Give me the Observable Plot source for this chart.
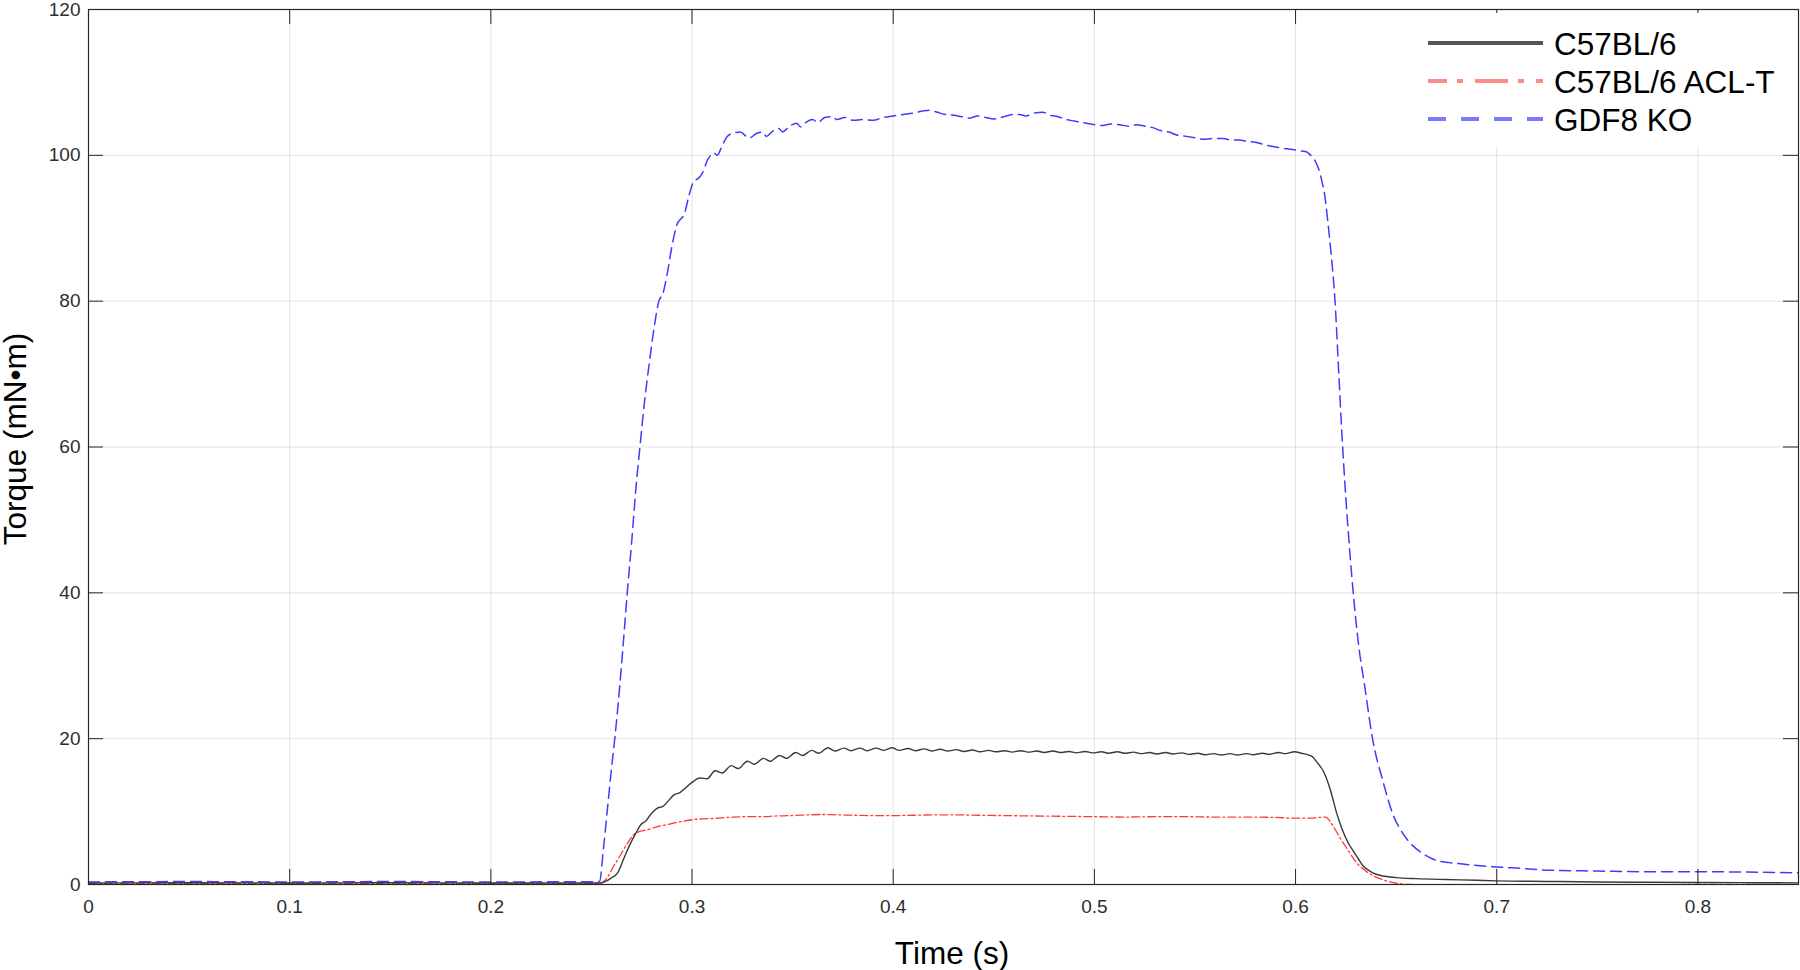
<!DOCTYPE html>
<html>
<head>
<meta charset="utf-8">
<script src="https://cdn.jsdelivr.net/npm/d3@7"></script>
<script src="https://cdn.jsdelivr.net/npm/@observablehq/plot@0.6"></script>
<style>
  html, body { margin: 0; padding: 0; background: #fff; }
  #wrap { position: relative; width: 1800px; height: 970px; font-family: "Liberation Sans", Arial, Helvetica, sans-serif; }
  #legend { position: absolute; left: 1412px; top: 13px; width: 376px; height: 134px; background: #fff; }
  .axlabel { position: absolute; font-size: 31.5px; color: #000; white-space: nowrap; }
</style>
</head>
<body>
<div id="wrap"></div>
<script>
// ---- data (time in s, torque in mN·m) ----
const xTicks = [0, 0.1, 0.2, 0.3, 0.4, 0.5, 0.6, 0.7, 0.8];
const yTicks = [0, 20, 40, 60, 80, 100, 120];
const seriesNames = ["C57BL/6", "C57BL/6 ACL-T", "GDF8 KO"];

const c57 = [
  [0,0.2],[0.05,0.25],[0.1,0.2],[0.15,0.25],[0.2,0.2],[0.254,0.2],
  [0.256,0.3],[0.26,0.9],[0.263,1.6],[0.266,3.5],[0.269,5.4],[0.272,7.0],[0.2745,8.2],[0.277,8.7],
  [0.28,9.8],[0.283,10.5],[0.2855,10.7],[0.288,11.4],[0.291,12.3],[0.294,12.6],[0.297,13.3],[0.3,14.0],
  [0.304,14.6],[0.3075,14.5],[0.3115,15.6],[0.315,15.3],[0.3195,16.3],[0.323,15.9],[0.3275,16.9],[0.331,16.5],
  [0.3355,17.3],[0.339,16.9],[0.3435,17.7],[0.347,17.3],[0.3515,18.1],[0.355,17.7],[0.3595,18.4],[0.363,18.0],
  [0.3675,18.75],[0.371,18.3],[0.3755,18.7],[0.379,18.35],[0.3835,18.7],[0.387,18.35],[0.3915,18.7],[0.395,18.4],
  [0.3995,18.75],[0.403,18.4],[0.4075,18.65],[0.411,18.35],[0.4155,18.6],[0.419,18.3],[0.4235,18.55],[0.427,18.3],
  [0.4315,18.5],[0.435,18.25],[0.4395,18.45],[0.443,18.2],[0.4475,18.4],[0.451,18.2],[0.4555,18.35],[0.459,18.15],
  [0.4635,18.35],[0.467,18.15],[0.4715,18.3],[0.475,18.1],[0.4795,18.3],[0.483,18.1],[0.4875,18.25],[0.491,18.05],
  [0.4955,18.25],[0.499,18.05],[0.5035,18.2],[0.507,18.0],[0.5115,18.2],[0.515,18.0],[0.5195,18.15],[0.523,17.95],
  [0.5275,18.1],[0.531,17.9],[0.5355,18.1],[0.539,17.9],[0.5435,18.05],[0.547,17.85],[0.5515,18.0],[0.555,17.8],
  [0.5595,17.95],[0.563,17.75],[0.5675,17.95],[0.571,17.75],[0.5755,17.95],[0.579,17.8],[0.5835,18.0],[0.587,17.85],
  [0.5915,18.1],[0.595,17.95],[0.5995,18.2],[0.603,18.0],[0.606,17.8],[0.6085,17.5],[0.61,17.0],[0.612,16.3],
  [0.6135,15.7],[0.615,14.8],[0.6168,13.4],[0.6185,11.8],[0.62,10.2],[0.6217,8.7],[0.6234,7.4],[0.626,5.8],
  [0.6284,4.7],[0.631,3.6],[0.6334,2.6],[0.636,2.0],[0.6384,1.6],[0.643,1.2],[0.65,0.95],[0.66,0.8],
  [0.675,0.68],[0.69,0.58],[0.7,0.5],[0.725,0.42],[0.75,0.35],[0.775,0.3],[0.8,0.28],[0.825,0.25],[0.85,0.22]
];

const aclt = [
  [0,0.1],[0.1,0.1],[0.2,0.1],[0.254,0.1],
  [0.256,0.4],[0.258,1.0],[0.2608,2.4],[0.2635,3.6],[0.2658,4.7],[0.2685,5.9],[0.2707,6.75],[0.2725,7.1],
  [0.275,7.35],[0.279,7.6],[0.2824,7.9],[0.2865,8.15],[0.2906,8.4],[0.295,8.65],[0.3006,8.9],[0.305,9.0],
  [0.3105,9.05],[0.315,9.15],[0.3204,9.25],[0.328,9.3],[0.335,9.3],[0.342,9.4],[0.35,9.45],[0.358,9.55],
  [0.365,9.6],[0.372,9.55],[0.38,9.5],[0.39,9.45],[0.4,9.45],[0.41,9.5],[0.42,9.55],[0.43,9.55],
  [0.443,9.5],[0.455,9.45],[0.47,9.4],[0.485,9.35],[0.5,9.3],[0.515,9.25],[0.53,9.3],[0.545,9.3],
  [0.56,9.25],[0.577,9.25],[0.59,9.2],[0.5986,9.1],[0.605,9.1],[0.61,9.15],[0.615,9.25],[0.6175,8.5],
  [0.62,7.4],[0.6225,6.2],[0.625,5.15],[0.6275,4.1],[0.63,3.1],[0.6333,2.2],[0.6367,1.5],[0.641,0.9],
  [0.6467,0.36],[0.652,0.1],[0.657,0.0],[0.7,-0.05],[0.75,-0.05],[0.8,0.0],[0.85,0.0]
];

const gdf8 = [
  [0,0.35],[0.05,0.4],[0.1,0.35],[0.15,0.4],[0.2,0.35],[0.254,0.4],
  [0.256,5.0],[0.258,10.5],[0.26,16.0],[0.2616,20.0],[0.264,27.0],[0.2658,33.0],[0.2678,40.0],[0.27,47.0],
  [0.272,54.0],[0.2741,60.0],[0.2765,66.5],[0.279,72.0],[0.2815,77.0],[0.2835,80.0],[0.2855,81.0],[0.2875,83.5],
  [0.29,87.5],[0.2925,90.5],[0.2945,91.3],[0.296,91.8],[0.2985,94.5],[0.301,96.5],[0.303,96.8],[0.305,97.5],
  [0.308,99.5],[0.311,100.3],[0.3125,100.0],[0.3145,101.0],[0.317,102.4],[0.32,103.0],[0.324,103.2],[0.327,102.6],
  [0.3287,102.4],[0.332,103.0],[0.335,103.2],[0.337,102.6],[0.34,103.3],[0.343,103.7],[0.345,103.2],[0.3485,104.0],
  [0.352,104.4],[0.354,103.9],[0.357,104.6],[0.36,104.9],[0.3625,104.5],[0.366,105.2],[0.37,105.3],[0.372,104.9],
  [0.376,105.2],[0.38,104.8],[0.385,104.9],[0.39,104.8],[0.395,105.2],[0.4,105.4],[0.405,105.6],[0.41,105.8],
  [0.415,106.1],[0.418,106.2],[0.422,105.9],[0.426,105.6],[0.43,105.5],[0.434,105.3],[0.438,105.1],[0.442,105.4],
  [0.446,105.2],[0.45,105.0],[0.455,105.3],[0.46,105.6],[0.4628,105.6],[0.466,105.4],[0.47,105.8],[0.4744,105.9],
  [0.478,105.5],[0.482,105.3],[0.486,104.9],[0.49,104.7],[0.496,104.4],[0.5,104.2],[0.5042,104.1],[0.508,104.3],
  [0.5125,104.2],[0.517,104.0],[0.521,104.2],[0.525,104.0],[0.529,103.8],[0.533,103.4],[0.537,103.2],[0.541,102.8],
  [0.5457,102.6],[0.55,102.4],[0.554,102.2],[0.559,102.3],[0.564,102.3],[0.568,102.1],[0.572,102.1],[0.576,101.9],
  [0.58,101.8],[0.584,101.5],[0.5887,101.2],[0.593,101.0],[0.5986,100.8],[0.603,100.6],[0.6053,100.5],[0.6075,100.0],
  [0.6094,99.4],[0.6108,98.6],[0.6119,97.8],[0.6132,96.3],[0.6144,94.7],[0.616,91.0],[0.6177,86.4],[0.6195,80.5],
  [0.6215,70.0],[0.623,62.0],[0.625,53.0],[0.627,45.5],[0.629,39.0],[0.6315,32.5],[0.6342,27.5],[0.6384,19.8],
  [0.6433,14.3],[0.6483,9.7],[0.6533,7.0],[0.658,5.4],[0.6632,4.25],[0.67,3.3],[0.6765,3.0],[0.685,2.75],
  [0.693,2.55],[0.7,2.4],[0.713,2.2],[0.726,1.96],[0.75,1.85],[0.775,1.75],[0.8,1.75],[0.825,1.7],[0.85,1.6]
];

// ---- styles ----
const axisColor = "#262626";
const innerW = 1800 - 88 - 2;
const innerH = 970 - 9 - 86;
const tickLen = 15;
const fontStack = '"Liberation Sans", Arial, Helvetica, sans-serif';

const chart = Plot.plot({
  width: 1800,
  height: 970,
  marginLeft: 88,
  marginRight: 2,
  marginTop: 9,
  marginBottom: 86,
  style: { fontFamily: fontStack, background: "#fff", overflow: "visible" },
  x: { domain: [0, 0.85] },
  y: { domain: [0, 120] },
  marks: [
    Plot.gridX(xTicks, { stroke: "#000", strokeOpacity: 0.11, strokeWidth: 1 }),
    Plot.gridY(yTicks, { stroke: "#000", strokeOpacity: 0.11, strokeWidth: 1 }),
    Plot.line(gdf8, { x: d => d[0], y: d => d[1], stroke: "#3c3cff", strokeWidth: 1.5, strokeDasharray: "11,6", curve: "monotone-x", clip: true }),
    Plot.line(aclt, { x: d => d[0], y: d => d[1], stroke: "#ff3a3a", strokeWidth: 1.3, strokeDasharray: "8,3,2,3", curve: "monotone-x", clip: true }),
    Plot.line(c57, { x: d => d[0], y: d => d[1], stroke: "#3a3a3a", strokeWidth: 1.4, curve: "monotone-x", clip: true }),
    Plot.frame({ stroke: axisColor, strokeWidth: 1.2 }),
    Plot.tickX(xTicks, { x: d => d, insetTop: innerH - tickLen, stroke: axisColor }),
    Plot.tickX(xTicks, { x: d => d, insetBottom: innerH - tickLen, stroke: axisColor }),
    Plot.tickY(yTicks, { y: d => d, insetRight: innerW - tickLen, stroke: axisColor }),
    Plot.tickY(yTicks, { y: d => d, insetLeft: innerW - tickLen, stroke: axisColor }),
    Plot.axisX(xTicks, { tickSize: 0, tickPadding: 15, fontSize: 19, fill: "#2e2e2e", label: null, tickFormat: d => String(d) }),
    Plot.axisY(yTicks, { tickSize: 0, tickPadding: 8, fontSize: 19, fill: "#2e2e2e", label: null, tickFormat: d => String(d) })
  ]
});

const wrap = document.getElementById("wrap");
wrap.appendChild(chart);

// axis titles
const xl = document.createElement("div");
xl.className = "axlabel";
xl.textContent = "Time (s)";
xl.style.left = "952px";
xl.style.top = "953px";
xl.style.transform = "translate(-50%, -50%)";
wrap.appendChild(xl);

const yl = document.createElement("div");
yl.className = "axlabel";
yl.textContent = "Torque (mN•m)";
yl.style.left = "15px";
yl.style.top = "439px";
yl.style.transform = "translate(-50%, -50%) rotate(-90deg)";
wrap.appendChild(yl);

// legend
const legendItems = [
  { name: seriesNames[0], color: "#555555", dash: null, offset: 0 },
  { name: seriesNames[1], color: "#ff8a8a", dash: "33,10,6,12", offset: 14 },
  { name: seriesNames[2], color: "#7a7aff", dash: "18,15", offset: 0 }
];
const lg = document.createElement("div");
lg.id = "legend";
const ns = "http://www.w3.org/2000/svg";
const lsvg = document.createElementNS(ns, "svg");
lsvg.setAttribute("width", 376);
lsvg.setAttribute("height", 134);
legendItems.forEach((it, i) => {
  const cy = 30 + i * 38;
  const ln = document.createElementNS(ns, "line");
  ln.setAttribute("x1", 16); ln.setAttribute("x2", 131);
  ln.setAttribute("y1", cy); ln.setAttribute("y2", cy);
  ln.setAttribute("stroke", it.color);
  ln.setAttribute("stroke-width", 4);
  if (it.dash) { ln.setAttribute("stroke-dasharray", it.dash); ln.setAttribute("stroke-dashoffset", it.offset); }
  lsvg.appendChild(ln);
  const tx = document.createElementNS(ns, "text");
  tx.setAttribute("x", 142);
  tx.setAttribute("y", cy + 11.5);
  tx.setAttribute("font-size", 31.5);
  tx.setAttribute("font-family", fontStack);
  tx.setAttribute("fill", "#000");
  tx.textContent = it.name;
  lsvg.appendChild(tx);
});
lg.appendChild(lsvg);
wrap.appendChild(lg);
</script>
</body>
</html>
